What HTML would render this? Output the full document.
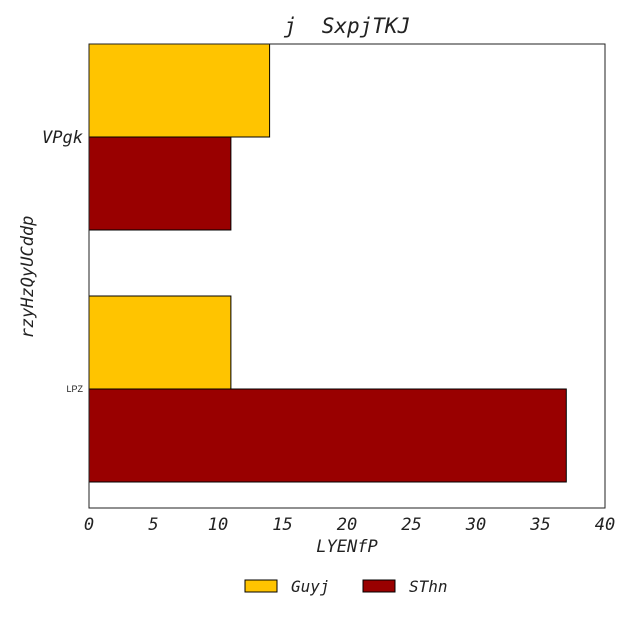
<!DOCTYPE html>
<html><head><meta charset="utf-8"><style>
body{margin:0;background:#fff}
text{font-family:"DejaVu Sans Mono","Liberation Mono",monospace;font-style:italic;fill:#222;white-space:pre}
</style></head><body>
<svg id="c" width="632" height="632" xmlns="http://www.w3.org/2000/svg"></svg>
<script>
const categories=["VPgk","LPZ"];
const seriesNames=["Guyj","SThn"];
const guyj=[14,11];
const sthn=[11,37];
const xTicks=[0,5,10,15,20,25,30,35,40];
const colors=["#ffc400","#990000"];
const svg=document.getElementById('c');
const NS="http://www.w3.org/2000/svg";
const L=89,R=605,T=44,B=508;
const x=v=>L+(v-0)/(40-0)*(R-L);
const catY=[137,389];
const bh=93;
function el(t,a,txt){const e=document.createElementNS(NS,t);for(const k in a)e.setAttribute(k,a[k]);if(txt!==undefined)e.textContent=txt;svg.appendChild(e);return e;}
const series=[guyj,sthn];
series.forEach((s,si)=>{s.forEach((v,ci)=>{
 const y0=si===0?catY[ci]-bh:catY[ci];
 const r=el('rect',{x:x(0),y:y0,width:x(v)-x(0),height:bh,fill:colors[si],stroke:'#000','stroke-width':1});
 
 
});});
const frame=el('rect',{x:L,y:T,width:R-L,height:B-T,fill:'none',stroke:'#222','stroke-width':1});


xTicks.forEach(t=>{
 const tx=el('text',{x:x(t),y:530,'text-anchor':'middle','font-size':17},String(t));
 
 
});
categories.forEach((c,i)=>{
 const fs=i===0?17:9;
 const tx=el('text',{x:83,y:catY[i]+(i===0?6:3),'text-anchor':'end','font-size':fs,style:i===0?'':'font-family:Liberation Sans,sans-serif;font-style:normal'},c);
 
 
});
const title=el('text',{x:347,y:33,'text-anchor':'middle','font-size':21,'xml:space':'preserve'},"j  SxpjTKJ");


const xt=el('text',{x:347,y:552,'text-anchor':'middle','font-size':17},"LYENfP");


const yt=el('text',{x:33,y:277,'text-anchor':'middle','font-size':17,transform:'rotate(-90 33 277)'},"rzyHzQyUCddp");


const lx=[245,363];
seriesNames.forEach((n,i)=>{
 const r=el('rect',{x:lx[i],y:580,width:32,height:12,fill:colors[i],stroke:'#000','stroke-width':1});
 
 
 const t=el('text',{x:lx[i]+46,y:592,'font-size':16},n);
 
 
});
</script>
</body></html>
